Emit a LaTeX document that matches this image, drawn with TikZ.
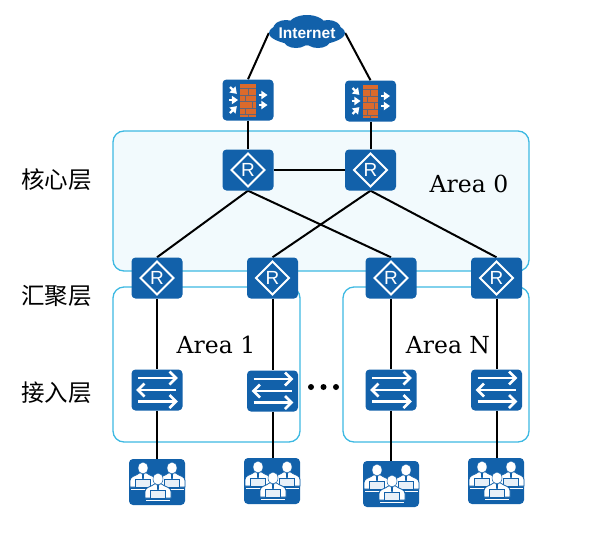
\documentclass[tikz,border=0pt]{standalone}
\usepackage{fontspec}
\setmainfont{DejaVu Serif}
\setsansfont{Liberation Sans}
\newfontfamily\cjk{Noto Sans CJK SC}
\usetikzlibrary{shapes.geometric}
\pgfdeclarelayer{bgl}\pgfdeclarelayer{edgel}
\pgfsetlayers{bgl,edgel,main}
\definecolor{huawei}{HTML}{1261AA}
\definecolor{areaedge}{HTML}{3DB9E2}
\definecolor{areafill}{HTML}{F2FAFD}
\definecolor{brick}{HTML}{DB6A2C}
\definecolor{screenc}{HTML}{E8F0F8}
\tikzset{
  iconbox/.style={fill=huawei,rounded corners=4pt,inner sep=0pt,minimum width=51pt,minimum height=41pt},
  userbox/.style={iconbox,minimum width=56pt,minimum height=46pt},
  area/.style={draw=areaedge,line width=1.3pt,rounded corners=11pt},
  link/.style={draw=black,line width=2pt},
  arealabel/.style={font=\fontsize{23.5pt}{26pt}\selectfont,text=black,inner sep=0pt},
  layerlabel/.style={font=\cjk\fontsize{23.5pt}{26pt}\selectfont,text=black,inner sep=0pt},
}
\newcommand{\rtricon}[1]{\begin{scope}[shift={(#1.center)}]
  \draw[white,line width=2pt,line join=miter] (0,-16.5)--(16.5,0)--(0,16.5)--(-16.5,0)--cycle;
  \node[white,inner sep=0pt,font=\sffamily\fontsize{19pt}{19pt}\selectfont] at (0,0) {R};
\end{scope}}
\newcommand{\swicon}[1]{\begin{scope}[shift={(#1.center)}]
  \foreach \yy/\dd in {-12/1,0/-1,11.5/1}{
    \draw[white,line width=2.4pt] ({-19*\dd},\yy)--({18.5*\dd},\yy);
    \draw[white,line width=2.5pt,line join=miter] ({12.5*\dd},\yy-6.5)--({19*\dd},\yy)--({12.5*\dd},\yy+6.5);
  }
\end{scope}}
\newcommand{\fwarrow}[4]{\draw[white,line width=2.4pt] (#1,#2)--(#3,#4);
  \fill[white] (#3,#4) ++({atan2(#4-#2,#3-#1)}:4) -- ++({atan2(#4-#2,#3-#1)+145}:7.5) -- ++({atan2(#4-#2,#3-#1)-90}:8.6) -- cycle;}
\newcommand{\fwicon}[1]{\begin{scope}[shift={(#1.center)}]
  \fill[brick] (-7.7,-16.5) rectangle (7.7,16.5);
  \foreach \yy in {-11.5,-5,1.5,8,14}{\draw[huawei!60!brick,line width=.9pt] (-7.7,\yy)--(7.7,\yy);}
  \draw[huawei!60!brick,line width=.9pt] (0,-11.5)--(0,-5) (-3,-5)--(-3,1.5) (4,1.5)--(4,8) (-3,8)--(-3,14) (0,14)--(0,16.5);
  \fwarrow{-18}{-13}{-14}{-9}
  \fwarrow{-19}{0}{-14}{0}
  \fwarrow{-18}{13}{-14}{9}
  \fwarrow{10.5}{-5}{15.5}{-5}
  \fwarrow{10.5}{5}{15.5}{5}
\end{scope}}
\newcommand{\person}[2]{\begin{scope}[shift={(#1,#2)}]
  \fill[white,draw=huawei,line width=.8pt] (-13,13.5) -- (-13,7) .. controls (-13,2.5) and (-7,2.5) .. (-3.5,-.5) -- (3.5,-.5) .. controls (7,2.5) and (13,2.5) .. (13,7) -- (13,13.5) -- cycle;
  \fill[white,draw=huawei,line width=.5pt] (0,-5.5) ellipse (5pt and 6pt);
  \fill[huawei] (-1.1,0)--(1.1,0)--(.7,5.5)--(-.7,5.5)--cycle;
  \draw[huawei,line width=.8pt,fill=screenc] (-7.5,5.5) rectangle (7.5,14);
  \draw[white,line width=1.2pt] (-12,15.8)--(12,15.8);
\end{scope}}
\newcommand{\usricon}[1]{\begin{scope}[shift={(#1.center)}]
  \person{-14}{-8.5}
  \person{15}{-8.5}
  \person{1}{2.5}
\end{scope}}
\begin{document}
\begin{tikzpicture}[x=1pt,y=-1pt]
\useasboundingbox (0,0) rectangle (591,544);
% cloud
\node[ellipse,fill=huawei,inner sep=0pt,minimum width=76pt,minimum height=25pt] (inet) at (307,33) {};
\fill[huawei] (307,26) ellipse (19pt and 11pt) (286,29) ellipse (13pt and 9pt) (328,29) ellipse (13pt and 9pt)
  (296,41) ellipse (12pt and 7pt) (318,41) ellipse (12pt and 7pt);
\node[white,inner sep=0pt,font=\sffamily\bfseries\fontsize{15.5pt}{16pt}\selectfont] (inettext) at (307,33.5) {Internet};
% firewalls
\node[iconbox] (fw1) at (248,100) {};
\node[iconbox] (fw2) at (370.5,101) {};
\fwicon{fw1}\fwicon{fw2}
% core
\node[iconbox] (c1) at (248,170) {};
\node[iconbox] (c2) at (370.5,170) {};
\rtricon{c1}\rtricon{c2}
% aggregation
\node[iconbox] (a1) at (157,278) {};
\node[iconbox] (a2) at (272.5,278) {};
\node[iconbox] (a3) at (391,278) {};
\node[iconbox] (a4) at (496.5,278) {};
\foreach \n in {a1,a2,a3,a4}{\rtricon{\n}}
% access
\node[iconbox] (s1) at (157,390) {};
\node[iconbox] (s2) at (272.5,391) {};
\node[iconbox] (s3) at (391,390) {};
\node[iconbox] (s4) at (496.5,390) {};
\foreach \n in {s1,s2,s3,s4}{\swicon{\n}}
% users
\node[userbox] (u1) at (157,482) {};
\node[userbox] (u2) at (272,481) {};
\node[userbox] (u3) at (391,484) {};
\node[userbox] (u4) at (496,481) {};
\foreach \n in {u1,u2,u3,u4}{\usricon{\n}}
% labels
\node[layerlabel] (l1) at (56.5,180) {核心层};
\node[layerlabel] (l2) at (56.5,296) {汇聚层};
\node[layerlabel] (l3) at (56.5,393) {接入层};
\node[arealabel] (n0) at (469,184) {Area 0};
\node[arealabel] (n1) at (216,345) {Area 1};
\node[arealabel] (nN) at (448,345) {Area N};
\node[circle,fill=black,inner sep=0pt,minimum size=6pt] (d1) at (311,387) {};
\node[circle,fill=black,inner sep=0pt,minimum size=6pt] (d2) at (323.5,387) {};
\node[circle,fill=black,inner sep=0pt,minimum size=6pt] (d3) at (336,387) {};
\begin{pgfonlayer}{bgl}
\draw[area,fill=areafill] (113,131) rectangle (529,271);
\draw[area] (113,287) rectangle (300,442);
\draw[area] (343,287) rectangle (529,442);
\end{pgfonlayer}
\begin{pgfonlayer}{edgel}
\draw[link] (inet.west) -- (fw1.north);
\draw[link] (inet.east) -- (fw2.north);
\draw[link] (fw1) -- (c1);
\draw[link] (fw2) -- (c2);
\draw[link] (c1) -- (c2);
\draw[link] (c1.south) -- (a1.north);
\draw[link] (c1.south) -- (a3.north);
\draw[link] (c2.south) -- (a2.north);
\draw[link] (c2.south) -- (a4.north);
\foreach \i in {1,2,3,4}{
  \draw[link] (a\i) -- (s\i);
  \draw[link] (s\i.south) -- (s\i.south |- u\i.north);
}
\end{pgfonlayer}
\end{tikzpicture}
\end{document}
